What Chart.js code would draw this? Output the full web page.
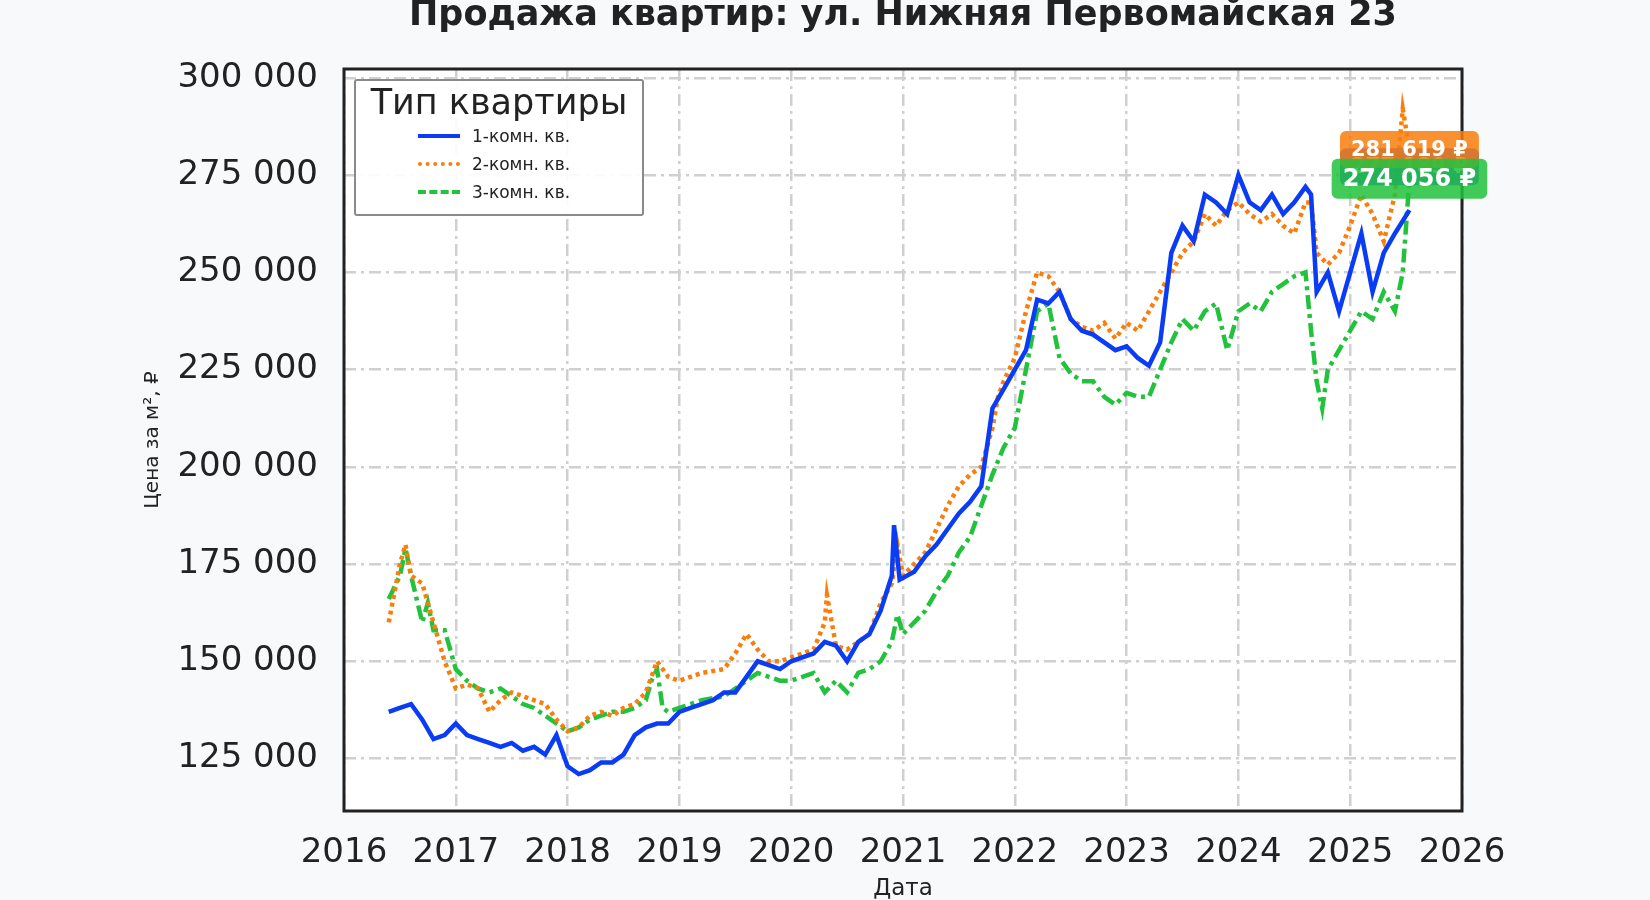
<!DOCTYPE html>
<html><head><meta charset="utf-8">
<script src="https://cdn.jsdelivr.net/npm/chart.js@4/dist/chart.umd.min.js"></script>
<style>
html,body{margin:0;padding:0;background:#f8f9fb;}
#wrap{position:relative;width:1650px;height:900px;}
#legend{position:absolute;left:354px;top:79px;width:290px;height:137px;border:2.5px solid #8a8a8a;border-radius:3px;background:rgba(255,255,255,0.9);font-family:"DejaVu Sans";color:#222;box-sizing:border-box;}
#legend .t{font-size:35px;text-align:center;margin-top:1px;}
#legend .r{display:flex;align-items:center;font-size:17px;height:28px;margin-left:62px;}
#legend .r span.l{display:inline-block;width:42px;margin-right:12px;}
</style></head>
<body><div id="wrap"><canvas id="c" width="1650" height="900"></canvas>
<div id="legend"><div class="t">Тип квартиры</div>
<div class="r"><span class="l" style="border-top:4px solid #0a3cf5"></span>1-комн. кв.</div>
<div class="r"><span class="l" style="border-top:4px dotted #f97e0c"></span>2-комн. кв.</div>
<div class="r"><span class="l" style="border-top:4px dashed #22c23c"></span>3-комн. кв.</div>
</div></div>
<script>
const seriesNames = ["1-комн. кв.","2-комн. кв.","3-комн. кв."];
const seriesColors = ["#0a3cf5","#f97e0c","#22c23c"];
const dates1 = [2016.4,2016.5,2016.6,2016.7,2016.8,2016.9,2017.0,2017.1,2017.2,2017.3,2017.4,2017.5,2017.6,2017.7,2017.8,2017.9,2018.0,2018.1,2018.2,2018.3,2018.4,2018.5,2018.6,2018.7,2018.8,2018.9,2019.0,2019.1,2019.2,2019.3,2019.4,2019.5,2019.6,2019.7,2019.8,2019.9,2020.0,2020.1,2020.2,2020.3,2020.4,2020.5,2020.6,2020.7,2020.8,2020.9,2020.92,2020.97,2021.1,2021.2,2021.3,2021.4,2021.5,2021.6,2021.7,2021.8,2021.9,2022.0,2022.1,2022.2,2022.3,2022.4,2022.5,2022.6,2022.7,2022.8,2022.9,2023.0,2023.1,2023.2,2023.3,2023.4,2023.5,2023.6,2023.7,2023.8,2023.9,2024.0,2024.1,2024.2,2024.3,2024.4,2024.5,2024.6,2024.65,2024.7,2024.8,2024.9,2025.0,2025.1,2025.2,2025.3,2025.4,2025.53];
const prices1 = [137000,138000,139000,135000,130000,131000,134000,131000,130000,129000,128000,129000,127000,128000,126000,131000,123000,121000,122000,124000,124000,126000,131000,133000,134000,134000,137000,138000,139000,140000,142000,142000,146000,150000,149000,148000,150000,151000,152000,155000,154000,150000,155000,157000,163000,172000,185000,171000,173000,177000,180000,184000,188000,191000,195000,215000,220000,225000,230000,243000,242000,245000,238000,235000,234000,232000,230000,231000,228000,226000,232000,255000,262000,258000,270000,268000,265000,275000,268000,266000,270000,265000,268000,272000,270000,245000,250000,240000,250000,260000,245000,255000,260000,266000];
const dates2 = [2016.4,2016.5,2016.55,2016.6,2016.7,2016.8,2016.9,2017.0,2017.1,2017.2,2017.3,2017.4,2017.5,2017.6,2017.7,2017.8,2017.9,2018.0,2018.1,2018.2,2018.3,2018.4,2018.5,2018.6,2018.7,2018.8,2018.9,2019.0,2019.2,2019.4,2019.5,2019.6,2019.7,2019.8,2019.9,2020.0,2020.2,2020.3,2020.32,2020.4,2020.5,2020.6,2020.7,2020.8,2020.9,2020.95,2021.0,2021.2,2021.3,2021.4,2021.5,2021.6,2021.7,2021.8,2021.85,2021.9,2022.0,2022.1,2022.2,2022.3,2022.4,2022.5,2022.6,2022.7,2022.8,2022.9,2023.0,2023.1,2023.2,2023.3,2023.4,2023.5,2023.6,2023.7,2023.8,2023.9,2024.0,2024.1,2024.2,2024.3,2024.4,2024.5,2024.6,2024.65,2024.7,2024.8,2024.9,2025.0,2025.1,2025.2,2025.3,2025.4,2025.47,2025.53];
const prices2 = [160000,175000,180000,172000,170000,160000,150000,143000,144000,143000,137000,140000,142000,141000,140000,139000,135000,132000,133000,136000,137000,136000,138000,139000,142000,150000,146000,145000,147000,148000,152000,157000,153000,150000,150000,151000,153000,160000,167000,154000,153000,155000,157000,165000,170000,180000,172000,178000,184000,190000,195000,198000,200000,210000,218000,222000,228000,240000,250000,249000,245000,238000,236000,235000,237000,233000,237000,235000,240000,245000,250000,255000,258000,265000,262000,266000,268000,265000,263000,265000,262000,260000,268000,268000,255000,252000,255000,262000,270000,265000,258000,270000,292000,281619];
const dates3 = [2016.4,2016.5,2016.55,2016.6,2016.7,2016.75,2016.8,2016.9,2017.0,2017.1,2017.2,2017.3,2017.4,2017.5,2017.6,2017.7,2017.8,2017.9,2018.0,2018.1,2018.2,2018.3,2018.4,2018.5,2018.6,2018.7,2018.75,2018.8,2018.85,2018.9,2019.0,2019.2,2019.4,2019.5,2019.6,2019.7,2019.8,2019.9,2020.0,2020.1,2020.2,2020.3,2020.4,2020.5,2020.6,2020.7,2020.8,2020.9,2020.95,2021.0,2021.2,2021.3,2021.4,2021.5,2021.6,2021.7,2021.8,2021.9,2022.0,2022.1,2022.2,2022.3,2022.4,2022.5,2022.6,2022.7,2022.8,2022.9,2023.0,2023.1,2023.2,2023.3,2023.4,2023.5,2023.6,2023.7,2023.8,2023.9,2024.0,2024.1,2024.2,2024.3,2024.4,2024.5,2024.6,2024.65,2024.7,2024.75,2024.8,2024.9,2025.0,2025.1,2025.2,2025.3,2025.4,2025.47,2025.53];
const prices3 = [166000,172000,179000,172000,160000,165000,158000,158000,148000,145000,143000,142000,143000,141000,139000,138000,136000,134000,132000,133000,135000,136000,137000,137000,138000,140000,145000,148000,138000,137000,138000,140000,141000,143000,145000,147000,146000,145000,145000,146000,147000,142000,145000,142000,147000,148000,150000,155000,162000,157000,163000,168000,172000,178000,182000,190000,198000,205000,210000,225000,240000,242000,228000,224000,222000,222000,218000,216000,219000,218000,218000,225000,232000,238000,235000,240000,242000,230000,240000,242000,240000,245000,247000,249000,250000,235000,222000,215000,225000,230000,235000,240000,238000,245000,240000,250000,274056];
const badgeLabels = ["277 189 ₽","281 619 ₽","274 056 ₽"];
const badgeValues = [277189,281619,274056];
const yTicks = [125000,150000,175000,200000,225000,250000,275000,300000];

const fmt = v => Math.round(v).toString().replace(/\B(?=(\d{3})+(?!\d))/g, " ");
const toXY = (d,p) => d.map((x,i)=>({x:x,y:p[i]}));

const deco = {
  id:'deco',
  beforeDraw(ch){const c=ch.ctx;c.save();c.fillStyle='#f8f9fb';c.fillRect(0,0,ch.width,ch.height);
    const a=ch.chartArea;c.fillStyle='#fff';c.fillRect(a.left,a.top,a.right-a.left,a.bottom-a.top);c.restore();},
  afterDraw(ch){
    const c=ch.ctx,a=ch.chartArea;c.save();
    c.strokeStyle='#222';c.lineWidth=3;c.strokeRect(a.left,a.top,a.right-a.left,a.bottom-a.top);
    c.fillStyle='#222';c.textAlign='center';c.textBaseline='middle';
    c.font='bold 35px "DejaVu Sans"';c.fillText('Продажа квартир: ул. Нижняя Первомайская 23',903,16);
    c.font='23px "DejaVu Sans"';c.fillText('Дата',903,889);
    c.save();c.translate(153,440);c.rotate(-Math.PI/2);c.font='20px "DejaVu Sans"';c.fillText('Цена за м², ₽',0,0);c.restore();
    const xs=ch.scales.x,ys=ch.scales.y;
    const sizes=[21,21,24];
    [0,1,2].forEach(i=>{
      const ds=ch.data.datasets[i].data;const last=ds[ds.length-1];
      const x=xs.getPixelForValue(last.x),y=ys.getPixelForValue(badgeValues[i]);
      c.font='bold '+sizes[i]+'px "DejaVu Sans"';
      const w=c.measureText(badgeLabels[i]).width+22,h=sizes[i]+16;
      c.globalAlpha=0.85;c.fillStyle=seriesColors[i];
      c.beginPath();c.roundRect(x-w/2,y-h/2,w,h,6);c.fill();
      c.globalAlpha=1;c.fillStyle='#fff';c.fillText(badgeLabels[i],x,y+1);
    });
    c.restore();}
};

new Chart(document.getElementById('c'),{
  type:'line',
  data:{datasets:[
    {label:seriesNames[0],data:toXY(dates1,prices1),borderColor:seriesColors[0],borderWidth:4.5,pointRadius:0,tension:0},
    {label:seriesNames[1],data:toXY(dates2,prices2),borderColor:seriesColors[1],borderWidth:4.5,borderDash:[4,4],pointRadius:0,tension:0},
    {label:seriesNames[2],data:toXY(dates3,prices3),borderColor:seriesColors[2],borderWidth:4.5,borderDash:[14,5,4,5],pointRadius:0,tension:0}
  ]},
  options:{responsive:false,animation:false,
    layout:{padding:{top:69,right:188,left:0,bottom:0}},
    plugins:{legend:{display:false},tooltip:{enabled:false}},
    scales:{
      x:{type:'linear',min:2016,max:2026,
        ticks:{stepSize:1,padding:22,color:'#222',font:{family:'DejaVu Sans',size:34},callback:v=>String(v)},
        grid:{color:'#d0d0d0',lineWidth:2.5,drawTicks:false},border:{display:false,dash:[12,5,3,5]},
        afterFit:s=>{s.height=89;}},
      y:{min:111500,max:302300,
        afterBuildTicks:s=>{s.ticks=yTicks.map(v=>({value:v}));},
        ticks:{padding:26,color:'#222',font:{family:'DejaVu Sans',size:34},callback:v=>fmt(v)},
        grid:{color:'#d0d0d0',lineWidth:2.5,drawTicks:false},border:{display:false,dash:[12,5,3,5]},
        afterFit:s=>{s.width=344;}}
    }},
  plugins:[deco]
});
</script></body></html>
